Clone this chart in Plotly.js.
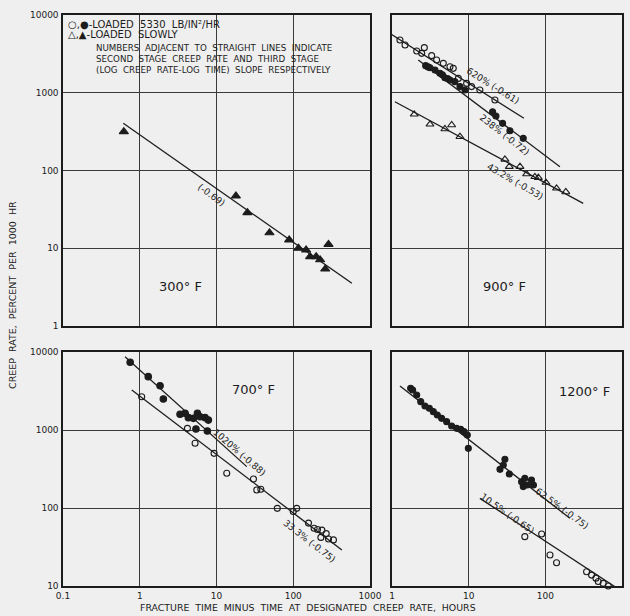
<!DOCTYPE html>
<html><head><meta charset="utf-8">
<script src="https://cdn.plot.ly/plotly-3.0.1.min.js"></script>
<style>html,body{margin:0;padding:0;background:#efefef;}</style>
</head><body>
<div id="chart" style="width:630px;height:616px;"></div>
<script>
// ---- tick labels ----
const xTicksLeft = [0.1, 1, 10, 100, 1000];
const xTickTextLeft = ['0.1', '1', '10', '100', '1000'];
const xTicksRight = [1, 10, 100, 1000];
const xTickTextRight = ['1', '10', '100', '1000'];
const yTicksTop = [1, 10, 100, 1000, 10000];
const yTickTextTop = ['1', '10', '100', '1000', '10000'];
const yTicksBottom = [10, 100, 1000, 10000];
const yTickTextBottom = ['10', '100', '1000', '10000'];

// ---- 300 F : loaded slowly (filled triangles) ----
const t300_x = [0.62, 17.9, 25.3, 49, 88.5, 117, 147, 166, 199, 224, 261, 288];
const t300_y = [316, 47, 28.7, 15.8, 12.8, 10, 9.5, 7.8, 7.8, 7.1, 5.4, 11.2];
const fit300_x = [0.61, 581];
const fit300_y = [405, 3.54];

// ---- 900 F ----
const c900o_x = [0.97, 1.27, 1.48, 2.1, 2.44, 2.64, 3.29, 3.82, 4.67, 5.7, 6.3, 7.33, 9.4, 10.9, 14, 22];
const c900o_y = [5530, 4770, 4110, 3440, 3210, 3800, 3000, 2640, 2390, 2160, 2060, 1530, 1320, 1200, 1085, 807];
const c900f_x = [2.75, 2.95, 3.13, 3.64, 4.23, 4.55, 4.9, 5.3, 5.7, 6.6, 7.7, 8.95, 20.5, 22.7, 27.7, 34.5, 51.5];
const c900f_y = [2230, 2150, 2100, 1960, 1780, 1700, 1560, 1520, 1460, 1390, 1200, 1085, 570, 502, 404, 325, 259];
const t900o_x = [1.95, 3.13, 4.9, 6.0, 7.7, 29.7, 33.9, 46.7, 57, 73, 81, 102, 140, 185];
const t900o_y = [528, 393, 342, 385, 272, 139, 112, 112, 90, 83, 81, 70, 59, 53];
const fit900a_x = [0.94, 52.6];
const fit900a_y = [5810, 469];
const fit900b_x = [2.2, 155];
const fit900b_y = [2640, 112];
const fit900c_x = [1.09, 312];
const fit900c_y = [767, 37.8];

// ---- 700 F ----
const c700f_x = [0.75, 1.29, 1.84, 2.03, 3.35, 3.9, 4.3, 5.0, 5.64, 6.1, 7.1, 7.84, 5.4, 7.6];
const c700f_y = [7380, 4830, 3700, 2500, 1590, 1640, 1440, 1410, 1640, 1480, 1440, 1340, 1030, 970];
const c700o_x = [1.06, 4.18, 5.26, 9.3, 13.6, 30.3, 33.5, 37.8, 62, 100, 111, 158, 187, 207, 236, 269, 229, 288, 334];
const c700o_y = [2670, 1050, 675, 502, 279, 235, 170, 174, 99, 90, 99, 64, 55, 53, 52, 47, 42, 40, 39];
const fit700a_x = [0.643, 24.8];
const fit700a_y = [8710, 339];
const fit700b_x = [0.787, 430];
const fit700b_y = [3260, 29];

// ---- 1200 F ----
const c1200f_x = [1.75, 1.86, 2.1, 2.37, 2.69, 3.07, 3.46, 3.9, 4.44, 5.16, 6.0, 6.97, 7.87, 8.7, 9.6, 9.9, 29.7, 28.3, 25.6, 33.9, 49, 54, 51.5, 58, 66, 70];
const c1200f_y = [3420, 3260, 2810, 2310, 2030, 1900, 1720, 1560, 1410, 1280, 1125, 1050, 1020, 952, 863, 582, 421, 356, 313, 273, 217, 240, 188, 197, 228, 197];
const c1200o_x = [54, 89.5, 115, 140, 345, 401, 457, 490, 569, 661];
const c1200o_y = [42.9, 46.4, 25, 19.9, 15.2, 13.8, 12.6, 11.4, 10.8, 10];
const fit1200a_x = [1.27, 209];
const fit1200a_y = [3660, 73.8];
const fit1200b_x = [14, 807];
const fit1200b_y = [133, 9.8];

// ---- text ----
const lineLabels = [
  {ax: '', t: '(-0.69)', x: 0.93, y: 1.685, a: 36},
  {ax: '2', t: '620% (-0.61)', x: 1.317, y: 3.09, a: 32},
  {ax: '2', t: '238% (-0.72)', x: 1.473, y: 2.469, a: 38},
  {ax: '2', t: '43.2% (-0.53)', x: 1.617, y: 1.865, a: 30},
  {ax: '3', t: '1020% (-0.88)', x: 1.308, y: 2.718, a: 41},
  {ax: '3', t: '33.3% (-0.75)', x: 2.207, y: 1.577, a: 38},
  {ax: '4', t: '62.5% (-0.75)', x: 2.229, y: 2.0, a: 36},
  {ax: '4', t: '10.5% (-0.65)', x: 1.512, y: 1.93, a: 35}
];
const tempLabels = [
  {ax: '', t: '300° F', x: 0.525, y: 0.502},
  {ax: '2', t: '900° F', x: 1.473, y: 0.502},
  {ax: '3', t: '700° F', x: 1.477, y: 3.513},
  {ax: '4', t: '1200° F', x: 2.516, y: 3.5}
];
const legendLines = [
  '○,●-LOADED 5330 LB/IN²/HR',
  '△,▲-LOADED SLOWLY'
];
const noteLines = [
  'NUMBERS ADJACENT TO STRAIGHT LINES INDICATE',
  'SECOND STAGE CREEP RATE AND THIRD STAGE',
  '(LOG CREEP RATE-LOG TIME) SLOPE RESPECTIVELY'
];
const xTitle = 'FRACTURE TIME MINUS TIME AT DESIGNATED CREEP RATE, HOURS';
const yTitle = 'CREEP RATE, PERCENT PER 1000 HR';

const INK = '#1c1c1c';
const FONT = 'DejaVu Sans, sans-serif';
// widen word spacing like the hand lettering of the original
const wide = s => s.split(' ').join('\u00A0\u00A0');

function pts(xa, x, y, symbol, size) {
  return {type: 'scatter', mode: 'markers', x: x, y: y, xaxis: 'x' + xa, yaxis: 'y' + xa,
    marker: {symbol: symbol, size: size || 6, color: INK, line: {color: INK, width: 1.1}},
    showlegend: false, hoverinfo: 'skip', cliponaxis: false};
}
function fit(xa, x, y) {
  return {type: 'scatter', mode: 'lines', x: x, y: y, xaxis: 'x' + xa, yaxis: 'y' + xa,
    line: {color: INK, width: 1.3}, showlegend: false, hoverinfo: 'skip'};
}

const data = [
  fit('', fit300_x, fit300_y),
  pts('', t300_x, t300_y, 'triangle-up', 8),
  fit('2', fit900a_x, fit900a_y),
  fit('2', fit900b_x, fit900b_y),
  fit('2', fit900c_x, fit900c_y),
  pts('2', c900o_x, c900o_y, 'circle-open', 6),
  pts('2', c900f_x, c900f_y, 'circle', 6),
  pts('2', t900o_x, t900o_y, 'triangle-up-open', 7),
  fit('3', fit700a_x, fit700a_y),
  fit('3', fit700b_x, fit700b_y),
  pts('3', c700f_x, c700f_y, 'circle', 6.5),
  pts('3', c700o_x, c700o_y, 'circle-open', 6),
  fit('4', fit1200a_x, fit1200a_y),
  fit('4', fit1200b_x, fit1200b_y),
  pts('4', c1200f_x, c1200f_y, 'circle', 6),
  pts('4', c1200o_x, c1200o_y, 'circle-open', 6)
];

function axis(domain, range, tv, tt, showLabels, anchor) {
  return {type: 'log', domain: domain, range: range, tickvals: tv, ticktext: tt,
    showticklabels: showLabels, showgrid: true, gridcolor: '#3a3a3a', gridwidth: 1,
    showline: true, mirror: true, linecolor: INK, linewidth: 1.6, ticks: '',
    zeroline: false, anchor: anchor, ticklabelstandoff: 1,
    tickfont: {family: FONT, size: 9, color: INK}};
}

const W = 630, H = 616;
const xl = [63 / W, 370 / W], xr = [392 / W, 622 / W];
const yt = [1 - 326 / H, 1 - 15 / H], yb = [1 - 586 / H, 1 - 352 / H];

const annotations = [];
lineLabels.forEach(l => annotations.push({xref: 'x' + l.ax, yref: 'y' + l.ax, x: l.x, y: l.y,
  text: l.t, showarrow: false, textangle: l.a, font: {family: FONT, size: 9.2, color: INK}}));
tempLabels.forEach(l => annotations.push({xref: 'x' + l.ax, yref: 'y' + l.ax, x: l.x, y: l.y,
  text: l.t, showarrow: false, font: {family: FONT, size: 13, color: INK}}));
legendLines.forEach((t, i) => annotations.push({xref: 'paper', yref: 'paper', x: 66 / W, y: 1 - (24 + i * 11) / H,
  xanchor: 'left', yanchor: 'middle', text: wide(t), showarrow: false, font: {family: FONT, size: 10, color: INK}}));
noteLines.forEach((t, i) => annotations.push({xref: 'paper', yref: 'paper', x: 94 / W, y: 1 - (48 + i * 11) / H,
  xanchor: 'left', yanchor: 'middle', text: wide(t), showarrow: false, font: {family: FONT, size: 8.7, color: INK}}));
annotations.push({xref: 'paper', yref: 'paper', x: 308 / W, y: 1 - 607 / H, xanchor: 'center', yanchor: 'middle',
  text: wide(xTitle), showarrow: false, font: {family: FONT, size: 9.4, color: INK}});
annotations.push({xref: 'paper', yref: 'paper', x: 12 / W, y: 1 - 295 / H, xanchor: 'center', yanchor: 'middle',
  text: wide(yTitle), textangle: -90, showarrow: false, font: {family: FONT, size: 9.5, color: INK}});

const layout = {
  width: W, height: H, margin: {l: 0, r: 0, t: 0, b: 0},
  paper_bgcolor: '#efefef', plot_bgcolor: '#efefef', showlegend: false,
  xaxis: axis(xl, [-1, 3], xTicksLeft, xTickTextLeft, false, 'y'),
  yaxis: axis(yt, [0, 4], yTicksTop, yTickTextTop, true, 'x'),
  xaxis2: axis(xr, [0, 3], xTicksRight, xTickTextRight, false, 'y2'),
  yaxis2: axis(yt, [0, 4], yTicksTop, yTickTextTop, false, 'x2'),
  xaxis3: axis(xl, [-1, 3], xTicksLeft, xTickTextLeft, true, 'y3'),
  yaxis3: axis(yb, [1, 4], yTicksBottom, yTickTextBottom, true, 'x3'),
  xaxis4: axis(xr, [0, 3], xTicksRight, xTickTextRight, true, 'y4'),
  yaxis4: axis(yb, [1, 4], yTicksBottom, yTickTextBottom, false, 'x4'),
  annotations: annotations
};

Plotly.newPlot('chart', data, layout, {staticPlot: true, displayModeBar: false});
</script>
</body></html>
